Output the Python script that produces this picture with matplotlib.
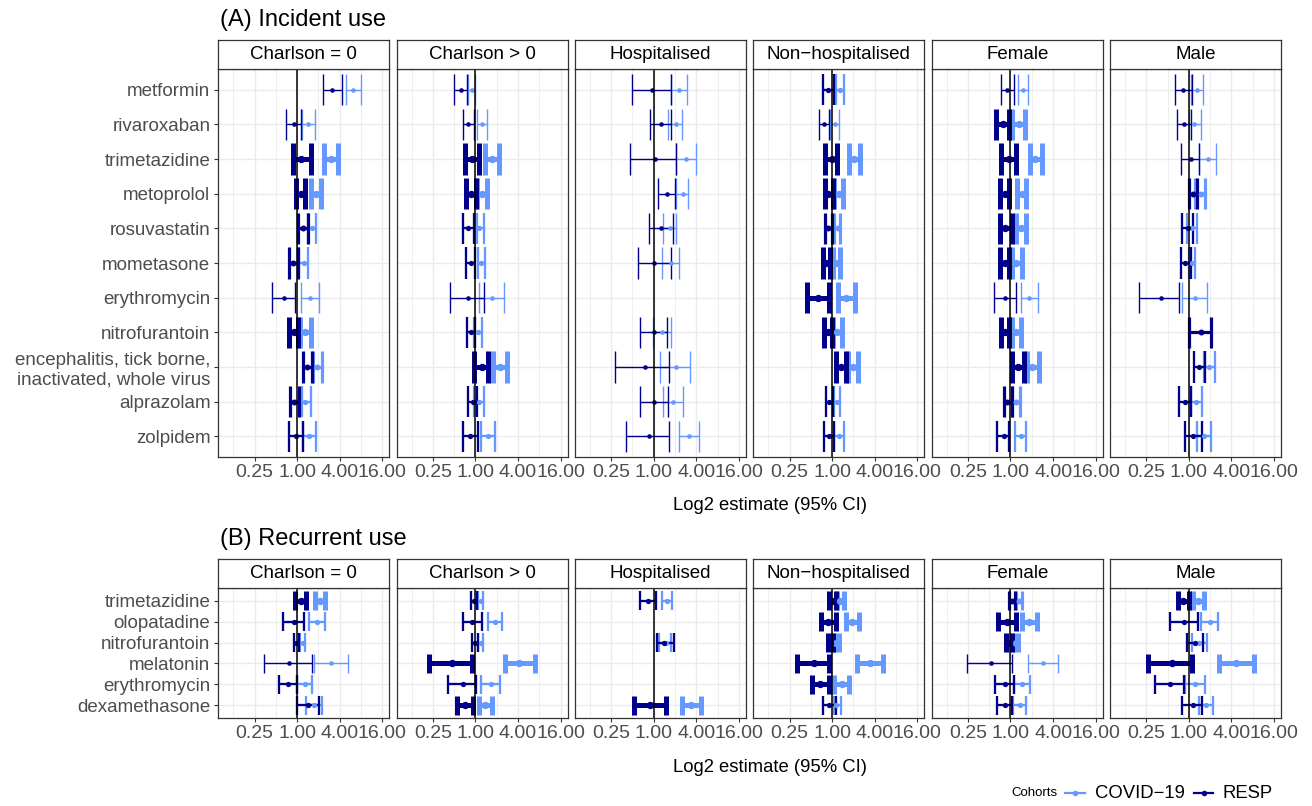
import numpy as np
import matplotlib.pyplot as plt
from matplotlib.lines import Line2D

plt.rcParams['font.family'] = ['Liberation Sans', 'DejaVu Sans']

facets = ["Charlson = 0", "Charlson > 0", "Hospitalised", "Non\u2212hospitalised", "Female", "Male"]

drugs_a = ["metformin", "rivaroxaban", "trimetazidine", "metoprolol", "rosuvastatin",
           "mometasone", "erythromycin", "nitrofurantoin",
           "encephalitis, tick borne,\ninactivated, whole virus", "alprazolam", "zolpidem"]
drugs_b = ["trimetazidine", "olopatadine", "nitrofurantoin", "melatonin", "erythromycin",
           "dexamethasone"]

# values: (lower, estimate, upper, weight); None = not estimated
# (A) incident use, RESP cohort
a_resp_ch0 = [(1.20, 1.65, 2.09, 1), (-0.50, -0.13, 0.20, 1), (-0.19, 0.20, 0.63, 3), (-0.06, 0.20, 0.39, 3),
              (0.03, 0.27, 0.52, 2), (-0.36, -0.17, 0.05, 2), (-1.18, -0.61, -0.08, 1), (-0.36, -0.16, 0.05, 3),
              (0.28, 0.47, 0.71, 2), (-0.33, -0.13, 0.08, 2), (-0.36, -0.03, 0.28, 1.5)]
a_resp_ch1 = [(-1.02, -0.68, -0.41, 1), (-0.60, -0.35, -0.09, 1), (-0.47, -0.16, 0.19, 3), (-0.44, -0.22, 0.03, 3),
              (-0.57, -0.33, -0.09, 1.5), (-0.44, -0.20, 0.0, 1.5), (-1.18, -0.36, 0.39, 1), (-0.41, -0.20, 0.0, 1.5),
              (-0.05, 0.30, 0.58, 3), (-0.36, -0.13, 0.09, 1.5), (-0.60, -0.24, 0.13, 1.5)]
a_resp_hosp = [(-1.04, -0.08, 0.79, 1), (-0.20, 0.35, 0.82, 1), (-1.10, 0.06, 1.02, 1), (0.22, 0.61, 1.01, 1),
               (-0.24, 0.35, 0.90, 1), (-0.76, 0.03, 0.79, 1), None, (-0.63, 0.0, 0.61, 1),
               (-1.80, -0.41, 0.71, 1), (-0.65, 0.03, 0.69, 1), (-1.29, -0.24, 0.72, 1)]
a_resp_nonhosp = [(-0.43, -0.19, 0.08, 1.5), (-0.63, -0.39, -0.16, 1), (-0.35, 0.0, 0.24, 3), (-0.35, -0.19, 0.03, 3),
                  (-0.35, -0.19, 0.0, 2), (-0.43, -0.27, -0.08, 3), (-1.18, -0.68, -0.16, 3), (-0.36, -0.20, 0.0, 3),
                  (0.20, 0.43, 0.66, 3), (-0.31, -0.16, 0.05, 1.5), (-0.36, -0.14, 0.11, 1.5)]
a_resp_female = [(-0.43, -0.16, 0.16, 1), (-0.66, -0.36, -0.08, 3), (-0.43, -0.08, 0.24, 3), (-0.47, -0.27, -0.08, 3),
                 (-0.47, -0.24, 0.05, 3), (-0.47, -0.27, -0.08, 3), (-0.79, -0.24, 0.24, 1), (-0.43, -0.24, -0.05, 3),
                 (0.08, 0.33, 0.63, 3), (-0.31, -0.16, 0.08, 2), (-0.63, -0.31, -0.08, 1.5)]
a_resp_male = [(-0.66, -0.27, 0.16, 1), (-0.55, -0.24, 0.08, 1), (-0.35, 0.11, 0.50, 1), (0.0, 0.19, 0.39, 2),
               (-0.31, -0.05, 0.20, 1.5), (-0.39, -0.16, 0.08, 1.5), (-2.36, -1.32, -0.44, 1), (0.03, 0.55, 1.02, 2),
               (0.24, 0.49, 0.74, 1.5), (-0.47, -0.19, 0.11, 1.5), (-0.20, 0.19, 0.60, 1.5)]

# (A) incident use, COVID-19 cohort
a_cov_ch0 = [(2.28, 2.63, 3.02, 1), (0.22, 0.53, 0.82, 1), (1.26, 1.57, 1.94, 3), (0.66, 0.87, 1.12, 3),
             (0.52, 0.69, 0.87, 1.5), (0.11, 0.31, 0.50, 1.5), (0.20, 0.61, 1.02, 1), (0.13, 0.36, 0.63, 3),
             (0.74, 0.94, 1.17, 2), (0.24, 0.39, 0.63, 1.5), (0.30, 0.58, 0.88, 1.5)]
a_cov_ch1 = [(-0.33, -0.16, 0.0, 1), (0.06, 0.30, 0.52, 1), (0.47, 0.79, 1.10, 3), (0.09, 0.30, 0.54, 3),
             (0.06, 0.19, 0.38, 1.5), (0.11, 0.27, 0.47, 1.5), (0.19, 0.79, 1.35, 1), (-0.09, 0.13, 0.31, 1.5),
             (0.82, 1.17, 1.50, 3), (-0.09, 0.16, 0.38, 1.5), (0.27, 0.60, 0.90, 1.5)]
a_cov_hosp = [(0.83, 1.17, 1.56, 1), (0.66, 1.02, 1.34, 1), (1.02, 1.53, 2.00, 1), (1.02, 1.35, 1.61, 1),
              (0.43, 0.74, 1.06, 1), (0.38, 0.79, 1.18, 1), None, (-0.05, 0.38, 0.79, 1),
              (0.31, 1.04, 1.69, 1), (0.41, 0.90, 1.35, 1), (1.20, 1.67, 2.11, 1)]
a_cov_nonhosp = [(0.16, 0.36, 0.58, 1.5), (-0.08, 0.13, 0.33, 1), (0.79, 1.04, 1.31, 3), (0.08, 0.31, 0.52, 3),
                 (0.11, 0.27, 0.39, 2), (0.03, 0.19, 0.39, 3), (0.27, 0.66, 1.06, 3), (0.05, 0.24, 0.44, 3),
                 (0.74, 0.98, 1.21, 3), (0.08, 0.24, 0.39, 1.5), (0.08, 0.33, 0.58, 1.5)]
a_cov_female = [(0.36, 0.58, 0.83, 1), (0.05, 0.39, 0.68, 3), (0.91, 1.15, 1.46, 3), (0.31, 0.52, 0.74, 3),
                (0.27, 0.47, 0.71, 3), (0.05, 0.27, 0.55, 3), (0.47, 0.88, 1.29, 1), (0.05, 0.24, 0.47, 3),
                (0.76, 1.02, 1.34, 3), (0.08, 0.24, 0.44, 2), (0.20, 0.47, 0.74, 1.5)]
a_cov_male = [(0.08, 0.39, 0.66, 1), (0.0, 0.24, 0.55, 1), (0.50, 0.90, 1.29, 1), (0.31, 0.55, 0.76, 2),
              (-0.08, 0.17, 0.39, 1.5), (0.0, 0.16, 0.31, 1.5), (-0.31, 0.27, 0.87, 1), None,
              (0.71, 0.94, 1.23, 1.5), (0.08, 0.35, 0.63, 1.5), (0.39, 0.71, 1.06, 1.5)]

# (B) recurrent use, RESP cohort
b_resp_ch0 = [(-0.08, 0.20, 0.43, 3), (-0.66, -0.16, 0.31, 1.5), (-0.16, -0.05, 0.08, 1.5),
              (-1.54, -0.36, 0.71, 1), (-0.87, -0.43, 0.0, 1.5), (0.0, 0.52, 1.02, 1.5)]
b_resp_ch1 = [(-0.19, -0.05, 0.06, 1.5), (-0.60, -0.16, 0.30, 1.5), (-0.14, -0.02, 0.13, 1.5),
              (-2.17, -1.10, -0.16, 3), (-1.31, -0.57, 0.03, 1.5), (-0.88, -0.47, -0.13, 3)]
b_resp_hosp = [(-0.65, -0.25, 0.11, 1.5), None, (0.16, 0.50, 0.93, 1.5), None, None, (-0.91, -0.16, 0.58, 3)]
b_resp_nonhosp = [(-0.16, 0.0, 0.19, 3), (-0.52, -0.19, 0.16, 3), (-0.20, -0.11, 0.05, 3),
                  (-1.65, -0.87, -0.13, 3), (-0.94, -0.55, -0.16, 3), (-0.44, -0.13, 0.16, 1.5)]
b_resp_female = [(-0.08, 0.08, 0.20, 2), (-0.58, -0.16, 0.27, 3), (-0.20, -0.08, 0.08, 3),
                 (-2.02, -0.90, 0.05, 1), (-0.71, -0.27, 0.17, 1.5), (-0.63, -0.28, 0.05, 1.5)]
b_resp_male = [(-0.52, -0.27, 0.0, 3), (-0.87, -0.22, 0.43, 1.5), (-0.09, 0.28, 0.66, 1.5),
               (-1.94, -0.79, 0.16, 3), (-1.57, -0.90, -0.24, 1.5), (-0.31, 0.19, 0.63, 1.5)]

# (B) recurrent use, COVID-19 cohort
b_cov_ch0 = [(0.83, 1.07, 1.31, 3), (0.55, 0.94, 1.31, 1.5), (0.16, 0.27, 0.39, 1.5),
             (0.79, 1.61, 2.41, 1), (0.0, 0.35, 0.68, 1.5), (0.43, 0.79, 1.15, 1.5)]
b_cov_ch1 = [(0.13, 0.24, 0.35, 1.5), (0.61, 0.91, 1.24, 1.5), (0.13, 0.24, 0.36, 1.5),
             (1.37, 2.05, 2.79, 3), (0.24, 0.72, 1.17, 1.5), (0.19, 0.47, 0.79, 3)]
b_cov_hosp = [(0.38, 0.61, 0.85, 1.5), None, (0.25, 0.55, 0.80, 1.5), None, None, (1.34, 1.76, 2.24, 3)]
b_cov_nonhosp = [(0.24, 0.39, 0.55, 3), (0.63, 0.94, 1.26, 3), (0.08, 0.19, 0.33, 3),
                 (1.18, 1.78, 2.39, 3), (0.11, 0.47, 0.79, 3), (0.08, 0.16, 0.43, 1.5)]
b_cov_female = [(0.24, 0.39, 0.52, 2), (0.52, 0.87, 1.23, 3), (0.11, 0.24, 0.36, 3),
                (0.83, 1.54, 2.24, 1), (0.17, 0.55, 0.90, 1.5), (0.11, 0.46, 0.71, 1.5)]
b_cov_male = [(0.20, 0.44, 0.71, 3), (0.55, 0.98, 1.37, 1.5), (0.16, 0.47, 0.83, 1.5),
              (1.42, 2.20, 3.07, 3), (-0.16, 0.31, 0.76, 1.5), (0.47, 0.79, 1.13, 1.5)]

cohorts = ["COVID\u221219", "RESP"]
col_cov = "#6699FF"
col_resp = "#00008B"

W, H = 1312, 806
fig = plt.figure(figsize=(W / 100, H / 100), dpi=100)


def box(x0, y0, x1, y1):
    return [x0 / W, 1 - y1 / H, (x1 - x0) / W, (y1 - y0) / H]


facet_w = 171
facet_step = 178.35
facet_x0 = 218.3
txt = 13.5


def draw_block(drugs, cov, resp, strip_top, top, bottom, title, xlab_y):
    n = len(drugs)
    fig.text(220 / W, 1 - (strip_top - 20) / H, title, fontsize=17, va='center', ha='left')
    for j, name in enumerate(facets):
        x0 = facet_x0 + j * facet_step
        ax = fig.add_axes(box(x0, top, x0 + facet_w, bottom))
        ax.set_xscale('log', base=2)
        ax.set_xlim(2 ** -3.7, 2 ** 4.33)
        ax.set_ylim(n - 1 + 0.6, -0.6)
        ax.set_xticks([0.25, 1, 4, 16])
        ax.set_xticklabels(["0.25", "1.00", "4.00", "16.00"])
        ax.set_xticks([0.125, 0.5, 2, 8], minor=True)
        ax.set_xticklabels([], minor=True)
        ax.set_yticks(range(n))
        if j == 0:
            ax.set_yticklabels(drugs, multialignment='right')
            ax.tick_params(axis='y', length=3.2, width=0.8, color='#333333', pad=2.5,
                           labelsize=txt, labelcolor='#4D4D4D')
        else:
            ax.set_yticklabels([])
            ax.tick_params(axis='y', length=0)
        ax.tick_params(axis='x', which='major', length=3.2, width=0.8, color='#333333', pad=2,
                       labelsize=14, labelcolor='#4D4D4D')
        ax.tick_params(axis='x', which='minor', length=0)
        ax.grid(True, which='major', color='#EBEBEB', lw=1.0)
        ax.grid(True, which='minor', axis='x', color='#EBEBEB', lw=0.6)
        ax.set_axisbelow(True)
        for s in ax.spines.values():
            s.set_color('#333333')
            s.set_linewidth(0.9)
            s.set_zorder(10)

        for rows, colour in ((cov[j], col_cov), (resp[j], col_resp)):
            for i, r in enumerate(rows):
                if r is None:
                    continue
                lo, est, hi, w = r
                lo, est, hi = 2.0 ** lo, 2.0 ** est, 2.0 ** hi
                lw = 1.0 + 1.3 * (w - 1)
                ax.hlines(i, lo, hi, color=colour, lw=lw, capstyle='butt', zorder=3)
                ax.vlines([lo, hi], i - 0.45, i + 0.45, color=colour, lw=lw, capstyle='butt', zorder=3)
                ax.plot(est, i, 'o', color=colour, ms=3.3 + 1.0 * (w - 1), mew=0, zorder=4)
        ax.axvline(1, color='black', lw=1.1, zorder=5)

        sax = fig.add_axes(box(x0, strip_top, x0 + facet_w, top))
        sax.set_xticks([])
        sax.set_yticks([])
        for s in sax.spines.values():
            s.set_color('#333333')
            s.set_linewidth(0.9)
        sax.text(0.5, 0.5, name, fontsize=txt, ha='center', va='center', transform=sax.transAxes)

    fig.text(770 / W, 1 - xlab_y / H, "Log2 estimate (95% CI)", fontsize=13.3,
             ha='center', va='center')


draw_block(drugs_a,
           [a_cov_ch0, a_cov_ch1, a_cov_hosp, a_cov_nonhosp, a_cov_female, a_cov_male],
           [a_resp_ch0, a_resp_ch1, a_resp_hosp, a_resp_nonhosp, a_resp_female, a_resp_male],
           40, 69, 457, "(A) Incident use", 505)
draw_block(drugs_b,
           [b_cov_ch0, b_cov_ch1, b_cov_hosp, b_cov_nonhosp, b_cov_female, b_cov_male],
           [b_resp_ch0, b_resp_ch1, b_resp_hosp, b_resp_nonhosp, b_resp_female, b_resp_male],
           559, 588, 718, "(B) Recurrent use", 767)

# legend along the bottom
ly = 1 - 793 / H
fig.text(1057 / W, ly, "Cohorts", fontsize=9.5, ha='right', va='center')
for (xa, xb, xt), lab, colour in zip([(1065, 1085, 1095), (1194, 1213, 1223)], cohorts, [col_cov, col_resp]):
    fig.add_artist(Line2D([xa / W, xb / W], [ly, ly], color=colour, lw=1.6, transform=fig.transFigure))
    fig.add_artist(Line2D([(xa + xb) / 2 / W], [ly], marker='o', ms=4, mew=0, color=colour,
                          transform=fig.transFigure))
    fig.text(xt / W, ly, lab, fontsize=13.3, ha='left', va='center')

fig.savefig("out.png", dpi=100)
